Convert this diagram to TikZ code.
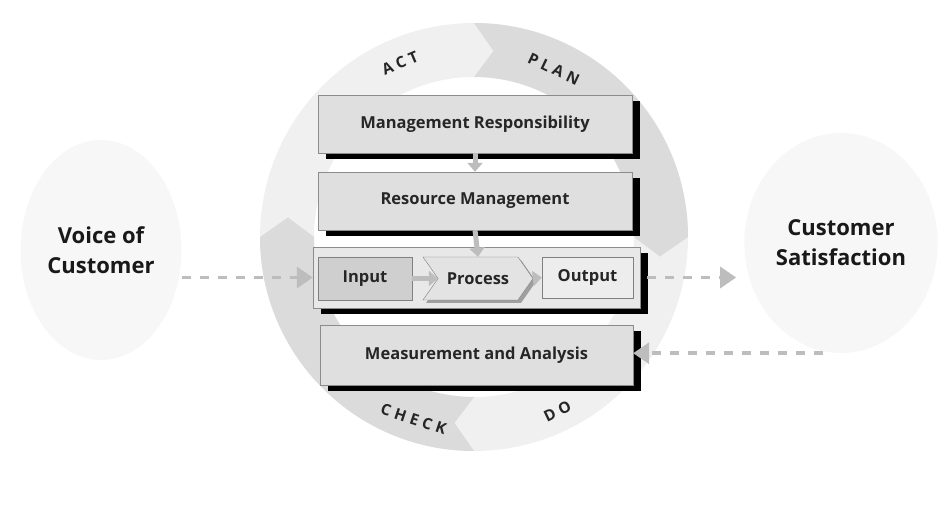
\documentclass[tikz,border=0pt]{standalone}
\usepackage{fontspec}
\setmainfont{Open Sans}
\usetikzlibrary{shapes.geometric,shapes.symbols,shadows,arrows.meta}
\definecolor{ringlight}{gray}{0.94}
\definecolor{ringdark}{gray}{0.86}
\definecolor{cloudfill}{gray}{0.97}
\definecolor{boxfill}{gray}{0.875}
\definecolor{flowgray}{gray}{0.74}
\begin{document}
\begin{tikzpicture}[x=1pt,y=1pt,
   block/.style={draw=gray!90,fill=boxfill,minimum width=314,minimum height=58,
     font=\bfseries\fontsize{16.5}{19}\selectfont,text=black!85,
     drop shadow={shadow xshift=8pt,shadow yshift=-6pt,fill=black,opacity=1}},
   part/.style={draw=gray,minimum height=43,font=\bfseries\fontsize{16.5}{19}\selectfont,text=black!85},
   cloud/.style={ellipse,fill=cloudfill,minimum width=156,minimum height=220,align=center,
     font=\bfseries\fontsize{22}{30}\selectfont,text=black!90},
   pdca/.style={inner sep=0pt,font=\bfseries\fontsize{15.5}{15.5}\selectfont\addfontfeature{LetterSpace=28},text=black!85},
   link/.style={draw=flowgray,line width=3.5pt,dash pattern=on 9pt off 9pt,-{Triangle[length=16pt,width=21pt]}},
   flow/.style={draw=flowgray,line width=5pt,-{Triangle[length=9pt,width=15pt]}}]
  \useasboundingbox (0,0) rectangle (944,514);
  \begin{scope}[shift={(474,277)}]
    \fill[ringlight,even odd rule] (0,0) circle[radius=214] (0,0) circle[radius=160];
    \fill[ringdark] (90:214) arc[start angle=90,end angle=0,radius=214] -- (-6:187)
      -- (0:160) arc[start angle=0,end angle=90,radius=160] -- (84:187) -- cycle;
    \fill[ringdark] (270:214) arc[start angle=270,end angle=180,radius=214] -- (174:187)
      -- (180:160) arc[start angle=180,end angle=270,radius=160] -- (264:187) -- cycle;
    \node[pdca,rotate=23] (act) at (113:189) {ACT};
    \node[pdca,rotate=-25.4] (plan) at (64.6:186) {PLAN};
    \node[pdca,rotate=-18.3] (check) at (251.7:192) {CHECK};
    \node[pdca,rotate=25.6] (do) at (295.6:193) {DO};
  \end{scope}
  \node[cloud] (voice) at (101,264) {Voice of\\Customer};
  \node[cloud] (sat) at (841,271) {Customer\\Satisfaction};
  \node[block] (mgmt) at (475,390) {Management Responsibility};
  \node[block] (res) at (475,313) {Resource Management};
  \node[block,fill=gray!18,minimum width=327,minimum height=61] (ipo) at (476.5,236.5) {};
  \node[block,minimum width=313,minimum height=60] (meas) at (476.5,159) {Measurement and Analysis};
  \node[part,fill=gray!38,minimum width=94] (input) at (365,235.5) {Input};
  \node[part,signal,signal to=east,signal from=west,signal pointer angle=110,fill=gray!22,
    minimum width=110,drop shadow={shadow xshift=3pt,shadow yshift=-3pt,fill=gray!75,opacity=1}]
    (process) at (478,235.5) {Process};
  \node[part,fill=gray!14,minimum width=91,minimum height=41] (output) at (587.5,236.5) {Output};
  \draw[flow] (mgmt.south) -- (res.north);
  \draw[flow] (res.south) -- (process.north);
  \draw[flow] (input.east) -- (process.west);
  \draw[flow] (process.east) -- (output.west);
  \draw[link] (ipo.west -| voice.east) -- (ipo.west);
  \draw[link,shorten <=7pt,shorten >=8pt] (ipo.east) -- (ipo.east -| sat.west);
  \draw[link,shorten <=18pt] (sat.south) -- (sat.south -| meas.east);
\end{tikzpicture}
\end{document}
